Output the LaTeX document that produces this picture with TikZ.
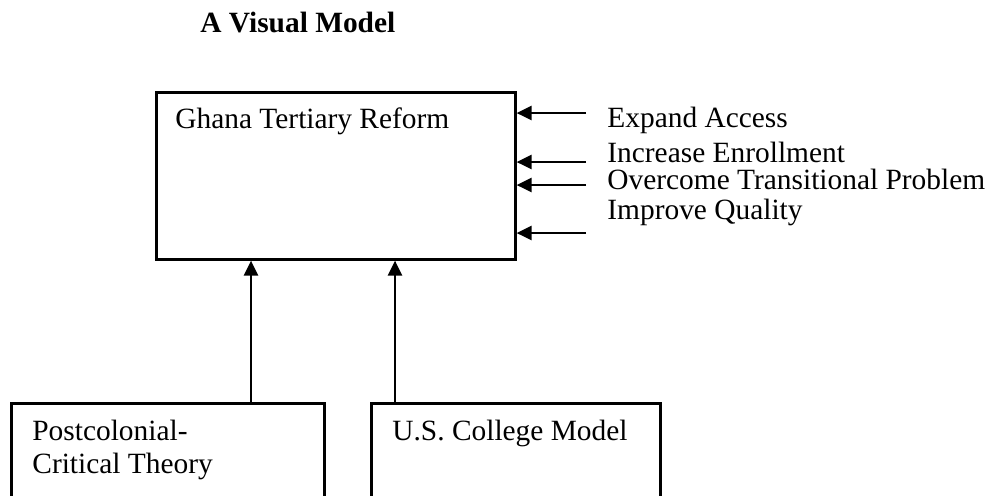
\documentclass[tikz,border=0pt]{standalone}
\usepackage{fontspec}
\setmainfont{Liberation Serif}
\usetikzlibrary{arrows.meta}
\begin{document}
\begin{tikzpicture}[x=0.5pt,y=-0.5pt,
  box/.style={draw=black,line width=1.3pt,inner sep=0pt,anchor=north west},
  lbl/.style={inner sep=0pt,anchor=base west,font=\fontsize{14.7}{17}\selectfont},
  ttl/.style={inner sep=0pt,anchor=base west,font=\fontsize{14.7}{17}\selectfont\bfseries},
  arr/.style={line width=1.2pt,-{Triangle[length=7.5pt,width=7pt]}}]
\useasboundingbox (0,0) rectangle (990,495);
\clip (0,0) rectangle (990,495);
\node[ttl] (title) at (200,32) {A Visual Model};
% main box
\node[box,minimum width=179.5pt,minimum height=83.5pt] (main) at (155,91) {};
\node[lbl] (mainlbl) at (175,128) {Ghana Tertiary Reform};
% bottom boxes
\node[box,minimum width=156.5pt,minimum height=60pt] (pc) at (10,402) {};
\node[box,minimum width=144.5pt,minimum height=60pt] (us) at (370,402) {};
\node[lbl] (pc1) at (32,440) {Postcolonial-};
\node[lbl] (pc2) at (32,473) {Critical Theory};
\node[lbl] (uslbl) at (392,440) {U.S. College Model};
% right labels
\node[lbl] (l1) at (607,127) {Expand Access};
\node[lbl] (l2) at (607,162) {Increase Enrollment};
\node[lbl] (l3) at (607,189) {Overcome Transitional Problem};
\node[lbl] (l4) at (607,219) {Improve Quality};
% arrow tails
\coordinate (t1) at (586,113);
\coordinate (t2) at (586,162);
\coordinate (t3) at (586,185);
\coordinate (t4) at (586,233);
\coordinate (b1) at (251,402);
\coordinate (b2) at (395,402);
\draw[arr] (t1) -- (t1 -| main.east);
\draw[arr] (t2) -- (t2 -| main.east);
\draw[arr] (t3) -- (t3 -| main.east);
\draw[arr] (t4) -- (t4 -| main.east);
\draw[arr] (b1) -- (b1 |- main.south);
\draw[arr] (b2) -- (b2 |- main.south);
\end{tikzpicture}
\end{document}
